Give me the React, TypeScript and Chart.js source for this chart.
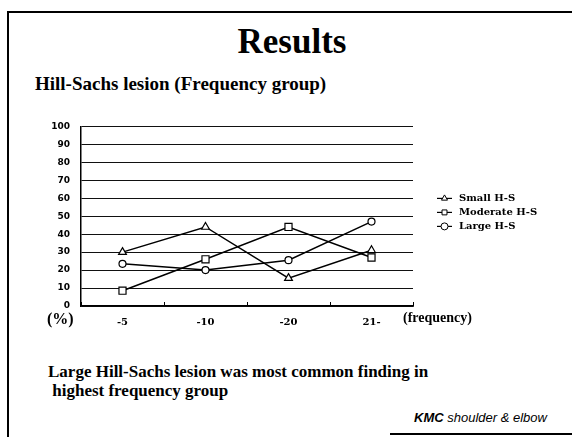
import React, { useEffect, useRef } from 'react';
import { Chart, registerables } from 'chart.js';
import { drawPoint } from 'chart.js/helpers';

Chart.register(...registerables);

const categories = ['-5', '-10', '-20', '21-'];
const yTickValues = [0, 10, 20, 30, 40, 50, 60, 70, 80, 90, 100];
const seriesLabels = ['Small H-S', 'Moderate H-S', 'Large H-S'];
const smallHS = [30, 44, 15.5, 31];
const moderateHS = [8.5, 26, 44, 27];
const largeHS = [23.5, 20, 25.5, 47];

const sideLegend = {
  id: 'sideLegend',
  afterDraw(chart: any) {
    const { ctx, chartArea } = chart;
    chart.data.datasets.forEach((ds: any, i: number) => {
      const y = chartArea.top + 72 + i * 14;
      const x0 = chartArea.right + 24;
      ctx.save();
      ctx.strokeStyle = '#000';
      ctx.lineWidth = 1.2;
      ctx.beginPath();
      ctx.moveTo(x0, y);
      ctx.lineTo(x0 + 15, y);
      ctx.stroke();
      ctx.fillStyle = '#fff';
      ctx.lineWidth = 1;
      drawPoint(ctx, { pointStyle: ds.pointStyle, radius: 3.5, borderWidth: 1, rotation: 0 } as any, x0 + 7.5, y);
      ctx.fillStyle = '#000';
      ctx.font = 'bold 10px "DejaVu Serif"';
      ctx.textBaseline = 'middle';
      ctx.textAlign = 'left';
      ctx.fillText(ds.label, x0 + 22, y);
      ctx.restore();
    });
  },
};

export default function App() {
  const ref = useRef<HTMLCanvasElement | null>(null);

  useEffect(() => {
    if (!ref.current) return;
    const mk = (label: string, data: number[], style: string, r: number) => ({
      label,
      data,
      borderColor: '#000',
      borderWidth: 1.5,
      pointStyle: style,
      pointRadius: r,
      pointBackgroundColor: '#fff',
      pointBorderColor: '#000',
      pointBorderWidth: 1.2,
      tension: 0,
      fill: false,
    });
    const chart = new Chart(ref.current, {
      type: 'line',
      data: {
        labels: categories,
        datasets: [
          mk(seriesLabels[0], smallHS, 'triangle', 4.5),
          mk(seriesLabels[1], moderateHS, 'rect', 5),
          mk(seriesLabels[2], largeHS, 'circle', 3.5),
        ],
      },
      options: {
        responsive: false,
        animation: false,
        devicePixelRatio: 1,
        layout: { padding: { top: 13, right: 159, left: 0, bottom: 0 } },
        plugins: { legend: { display: false }, tooltip: { enabled: false } },
        scales: {
          x: {
            offset: true,
            grid: { offset: true, drawOnChartArea: false, color: '#000', tickLength: -4, lineWidth: 1 },
            border: { color: '#000', width: 1.5 },
            ticks: { color: '#000', font: { family: '"DejaVu Serif"', weight: 'bold', size: 10 }, padding: 14 },
            afterFit: (s: any) => { s.height = 34; },
          },
          y: {
            min: 0,
            max: 100,
            afterBuildTicks: (s: any) => { s.ticks = yTickValues.map((v) => ({ value: v })); },
            ticks: { color: '#000', font: { family: '"DejaVu Sans"', weight: 'bold', size: 9 }, padding: 11 },
            grid: { color: '#111', drawTicks: false, lineWidth: 1 },
            border: { color: '#000', width: 1.5 },
            afterFit: (s: any) => { s.width = 61; },
          },
        },
      } as any,
      plugins: [sideLegend],
    });
    return () => chart.destroy();
  }, []);

  const serif = '"Liberation Serif", "Times New Roman", serif';
  return (
    <div style={{ position: 'absolute', left: 0, top: 0, width: 572, height: 437, background: '#fff', overflow: 'hidden', fontFamily: serif, color: '#000' }}>
      <div style={{ position: 'absolute', left: 7, top: 11, width: 565, height: 2, background: '#000' }} />
      <div style={{ position: 'absolute', left: 7, top: 11, width: 2, height: 426, background: '#000' }} />
      <div style={{ position: 'absolute', left: 390, top: 433, width: 182, height: 2, background: '#000' }} />
      <div style={{ position: 'absolute', left: 142, top: 24, width: 300, textAlign: 'center', fontSize: 35, lineHeight: '35px', fontWeight: 'bold', whiteSpace: 'nowrap' }}>Results</div>
      <div style={{ position: 'absolute', left: 35, top: 74, fontSize: 19, lineHeight: '19px', fontWeight: 'bold', whiteSpace: 'nowrap' }}>Hill-Sachs lesion (Frequency group)</div>
      <canvas ref={ref} width={552} height={230} style={{ position: 'absolute', left: 20, top: 110, width: 552, height: 230 }} />
      <div style={{ position: 'absolute', left: 47, top: 311, fontSize: 16, lineHeight: '16px', fontWeight: 'bold', whiteSpace: 'nowrap' }}>(%)</div>
      <div style={{ position: 'absolute', left: 403, top: 311, fontSize: 14, lineHeight: '14px', fontWeight: 'bold', whiteSpace: 'nowrap' }}>(frequency)</div>
      <div style={{ position: 'absolute', left: 48, top: 362, fontSize: 17, lineHeight: '19px', fontWeight: 'bold', whiteSpace: 'nowrap' }}>
        Large Hill-Sachs lesion was most common finding in<br />&nbsp;highest frequency group
      </div>
      <div style={{ position: 'absolute', left: 414, top: 411, fontSize: 13, lineHeight: '13px', fontStyle: 'italic', fontFamily: '"Liberation Sans", Arial, sans-serif', whiteSpace: 'nowrap' }}>
        <b>KMC</b> shoulder &amp; elbow
      </div>
    </div>
  );
}
